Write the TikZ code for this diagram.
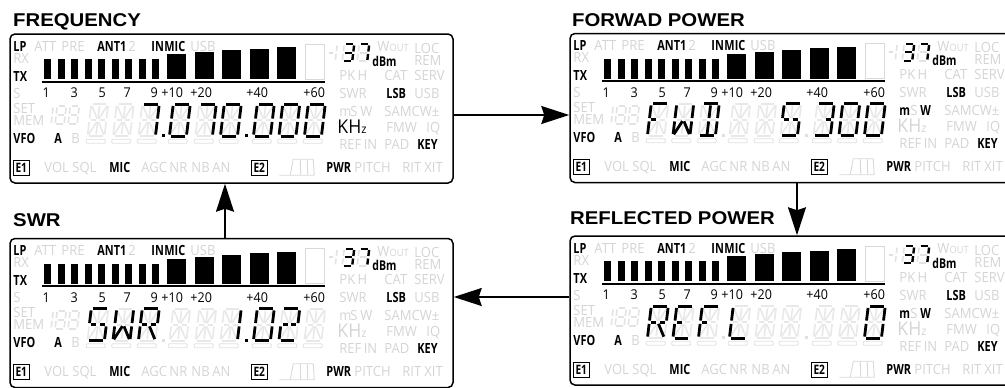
\documentclass[tikz,border=0pt]{standalone}
\usepackage{fontspec}
\usetikzlibrary{arrows.meta,positioning,calc}
\newfontfamily\lcdfont[FakeStretch=0.93]{Open Sans}
\newfontfamily\lcdbold[FakeStretch=0.78]{Open Sans}
\newfontfamily\titlefont[FakeStretch=1.1]{Liberation Sans}

% segment lists on a 3x3 grid (14 segment) and a 2x3 grid (7 segment)
\def\segAll{0/0/2/0,2/0/2/1,2/1/2/2,0/2/2/2,0/1/0/2,0/0/0/1,0/1/1/1,1/1/2/1,0/0/1/1,1/0/1/1,2/0/1/1,0/2/1/1,1/1/1/2,2/2/1/1}
\def\segZero{0/0/2/0,2/0/2/1,2/1/2/2,0/2/2/2,0/1/0/2,0/0/0/1}
\def\segOne{2/0/2/1,2/1/2/2}
\def\segTwo{0/0/2/0,2/0/2/1,0/1/1/1,1/1/2/1,0/1/0/2,0/2/2/2}
\def\segThree{0/0/2/0,2/0/2/1,1/1/2/1,2/1/2/2,0/2/2/2}
\def\segFive{0/0/2/0,0/0/0/1,0/1/1/1,1/1/2/1,2/1/2/2,0/2/2/2}
\def\segSeven{0/0/2/0,2/0/2/1,2/1/2/2}
\def\segF{0/0/2/0,0/0/0/1,0/1/0/2,0/1/1/1}
\def\segW{0/0/0/1,0/1/0/2,2/0/2/1,2/1/2/2,0/2/1/1,2/2/1/1}
\def\segD{0/0/2/0,2/0/2/1,2/1/2/2,0/2/2/2,1/0/1/1,1/1/1/2}
\def\segR{0/0/2/0,2/0/2/1,0/0/0/1,0/1/0/2,0/1/1/1,1/1/2/1,1/1/2/2}
\def\segE{0/0/2/0,0/0/0/1,0/1/0/2,0/2/2/2,0/1/1/1}
\def\segL{0/0/0/1,0/1/0/2,0/2/2/2}
\def\sevEight{0/0/1/0,1/0/1/1,1/1/1/2,0/2/1/2,0/1/0/2,0/0/0/1,0/1/1/1}
\def\sevThree{0/0/1/0,1/0/1/1,1/1/1/2,0/2/1/2,0/1/1/1}
\def\sevSeven{0/0/1/0,1/0/1/1,1/1/1/2}
\def\sevOne{1/0/1/1,1/1/1/2}

\tikzset{
  panel/.style={draw,line width=1.5pt,rounded corners=5pt,minimum width=443pt,minimum height=149pt,inner sep=0pt},
  paneltitle/.style={anchor=base west,inner sep=0pt,font=\titlefont\bfseries\fontsize{18.5}{18.5}\selectfont},
  lcdoff/.style={anchor=west,inner sep=0pt,text height=10pt,text depth=0pt,text=black!17,font=\lcdfont\fontsize{14}{14}\selectfont},
  lcdon/.style={lcdoff,text=black,font=\lcdbold\bfseries\fontsize{14}{14}\selectfont},
  scalenum/.style={anchor=center,inner sep=0pt,text height=9.3pt,text depth=0pt,font=\lcdfont\fontsize{13.5}{13.5}\selectfont},
  ebox/.style={draw,line width=1.2pt,minimum width=16pt,minimum height=15pt,inner sep=0pt,font=\lcdbold\bfseries\fontsize{13}{13}\selectfont},
  segoff/.style={draw=black!9,line width=1.6pt,shorten <=1.8pt,shorten >=1.8pt},
  segon/.style={draw=black,line width=2.8pt,shorten <=1.7pt,shorten >=1.7pt},
  sevoff/.style={draw=black!11,line width=1.6pt,shorten <=1.4pt,shorten >=1.4pt},
  sevon/.style={draw=black,line width=2.4pt,shorten <=1.3pt,shorten >=1.3pt},
  flow/.style={-{Stealth[length=28pt,width=18pt,inset=3pt]},line width=1.4pt}
}

\newcommand{\lcdglyph}[6]{%
  \begin{scope}[shift={(#1,#2)},xslant=0.12]
    \foreach \ax/\ay/\bx/\by in #6
      \draw[#5] (\ax*#3,\ay*#4) -- (\bx*#3,\by*#4);
  \end{scope}}
\newcommand{\lcdchar}[2]{\lcdglyph{#1}{71}{8.5}{16}{segon}{#2}}

\newcommand{\lcdbase}[3]{%
  \begin{scope}[shift={(#1.north west)}]
    \foreach \lx/\ly/\lt [count=\k] in {25/13/ATT,52/13/PRE,119/13/2,181/13/USB,4/25/RX,4/60/S,4/75/SET,4/87/MEM,62/105/B,35/134/VOL,63/134/SQL,132/134/AGC,160/134/NR,182/134/NB,203/134/AN,345/134/PITCH,393/134/RIT,415/134/XIT,405/15/LOC,405/27/REM,330/42/PK\,H,375/42/CAT,405/42/SERV,330/60/SWR,405/60/USB,375/78/SAMCW±,377/94/FMW,417/94/IQ,330/111/REF\,IN,375/111/PAD}
      \node[lcdoff] (#1-off\k) at (\lx,\ly) {\lt};
    \foreach \lx/\ly/\lt [count=\k] in {4/13/LP,88/13/ANT1,142/13/IN,155/13/MIC,4/43/TX,4/105/VFO,45/105/A,100/134/MIC,317/134/PWR,377/60/LSB,408/111/KEY}
      \node[lcdon] (#1-on\k) at (\lx,\ly) {\lt};
    \node[lcdoff] (#1-wout) at (368,13.5) {W\fontsize{10}{10}\selectfont OUT};
    \node[lcdon,font=\lcdbold\bfseries\fontsize{13.5}{13.5}\selectfont] (#1-dbm) at (363,28) {dBm};
    \node[#2,font=\lcdfont\fontsize{19}{19}\selectfont] (#1-khz) at (328,95) {KH\fontsize{12}{12}\selectfont z};
    \node[#3] (#1-m) at (330,78) {m};
    \node[lcdoff] (#1-s) at (341,78) {S};
    \node[#3] (#1-w) at (351,78) {W};
    \node[ebox] (#1-e1) at (12,134.5) {E1};
    \node[ebox] (#1-e2) at (250,134.5) {E2};
    % bar graph
    \foreach \bx in {0,...,8}
      \fill ({35+\bx*13.5},26) rectangle +(7,20);
    \foreach \bx/\bt in {167/21,195/19,222/17,250/15.5,277/14}
      \fill (\bx-9.5,\bt) rectangle (\bx+9.5,46);
    \draw[black!15,line width=1pt] (296,11) rectangle (315,46);
    \draw[line width=2pt] (33,48.5) -- (316,48.5);
    \foreach \nx/\nt [count=\k] in {37/1,65/3,93/5,118/7,145/9,163/+10,192/+20,248/+40,305/+60}
      \node[scalenum] (#1-sc\k) at (\nx,60) {\nt};
    % main digits, inactive segments
    \foreach \sx in {82,107.5,133,164,190,215,248,273.5,299}{
      \lcdglyph{\sx}{71}{8.5}{16}{segoff}{\segAll}
      \draw[black!12,line width=0.8pt,rounded corners=1pt] (\sx-5,106) rectangle (\sx+14,110);
    }
    \fill[black!12] (153,101) rectangle +(3,3);
    \fill[black!12] (236,101) rectangle +(3,3);
    \lcdglyph{35}{73}{9}{9}{sevoff}{\sevOne}
    \lcdglyph{48}{73}{9}{9}{sevoff}{\sevEight}
    \lcdglyph{61}{73}{9}{9}{sevoff}{\sevEight}
    % power readout
    \draw[black!12,line width=1.6pt] (320,19.5) -- (324,19.5);
    \lcdglyph{318}{11}{10}{8.5}{sevoff}{\sevOne}
    \lcdglyph{335}{11}{10}{8.5}{sevoff}{\sevEight}
    \lcdglyph{350}{11}{10}{8.5}{sevoff}{\sevEight}
    \lcdglyph{335}{11}{10}{8.5}{sevon}{\sevThree}
    \lcdglyph{350}{11}{10}{8.5}{sevon}{\sevSeven}
    % filter shape
    \draw[black!15,line width=0.9pt] (270,142) -- (281,142) -- (284,126) -- (304,126) -- (305,142) -- (281,142)
      (291,126) -- (291.5,142) (298,126) -- (298.5,142);
  \end{scope}}

\begin{document}
\begin{tikzpicture}[x=1pt,y=-1pt]
  \useasboundingbox (0,0) rectangle (1005,388);
  \clip (0,0) rectangle (1005,388);
  \node[panel] (freq) at (231.5,108.5) {};
  \node[panel] (fwd) at (791.5,108) {};
  \node[panel] (swr) at (231.5,313) {};
  \node[panel] (refl) at (791.5,310.5) {};
  \node[paneltitle] (tfreq) at (13,26) {FREQUENCY};
  \node[paneltitle] (tfwd) at (572,26) {FORWAD POWER};
  \node[paneltitle] (tswr) at (13,226) {SWR};
  \node[paneltitle] (trefl) at (570,224) {REFLECTED POWER};

  \lcdbase{freq}{lcdon}{lcdoff}
  \lcdbase{fwd}{lcdoff}{lcdon}
  \lcdbase{swr}{lcdoff}{lcdoff}
  \lcdbase{refl}{lcdoff}{lcdon}

  % 7.070.000
  \begin{scope}[shift={(freq.north west)}]
    \lcdchar{133}{\segSeven}
    \lcdchar{164}{\segZero}
    \lcdchar{190}{\segSeven}
    \lcdchar{215}{\segZero}
    \lcdchar{248}{\segZero}
    \lcdchar{273.5}{\segZero}
    \lcdchar{299}{\segZero}
    \fill (153,101) rectangle +(3,3);
    \fill (236,101) rectangle +(3,3);
  \end{scope}
  % FWD 5 300
  \begin{scope}[shift={(fwd.north west)}]
    \lcdchar{82}{\segF}
    \lcdchar{107.5}{\segW}
    \lcdchar{133}{\segD}
    \lcdchar{215}{\segFive}
    \lcdchar{248}{\segThree}
    \lcdchar{273.5}{\segZero}
    \lcdchar{299}{\segZero}
  \end{scope}
  % SWR 1.02
  \begin{scope}[shift={(swr.north west)}]
    \lcdchar{82}{\segFive}
    \lcdchar{107.5}{\segW}
    \lcdchar{133}{\segR}
    \lcdchar{215}{\segOne}
    \lcdchar{248}{\segZero}
    \lcdchar{273.5}{\segTwo}
    \fill (236,101) rectangle +(3,3);
  \end{scope}
  % REFL 0
  \begin{scope}[shift={(refl.north west)}]
    \lcdchar{82}{\segR}
    \lcdchar{107.5}{\segE}
    \lcdchar{133}{\segF}
    \lcdchar{164}{\segL}
    \lcdchar{299}{\segZero}
  \end{scope}

  \coordinate (c12) at (0,115);
  \coordinate (c24) at (797,0);
  \coordinate (c43) at (0,297);
  \coordinate (c31) at (225,0);
  \draw[flow] (freq.east |- c12) -- (fwd.west |- c12);
  \draw[flow] (fwd.south -| c24) -- (refl.north -| c24);
  \draw[flow] (refl.west |- c43) -- (swr.east |- c43);
  \draw[flow] (swr.north -| c31) -- (freq.south -| c31);
\end{tikzpicture}
\end{document}
